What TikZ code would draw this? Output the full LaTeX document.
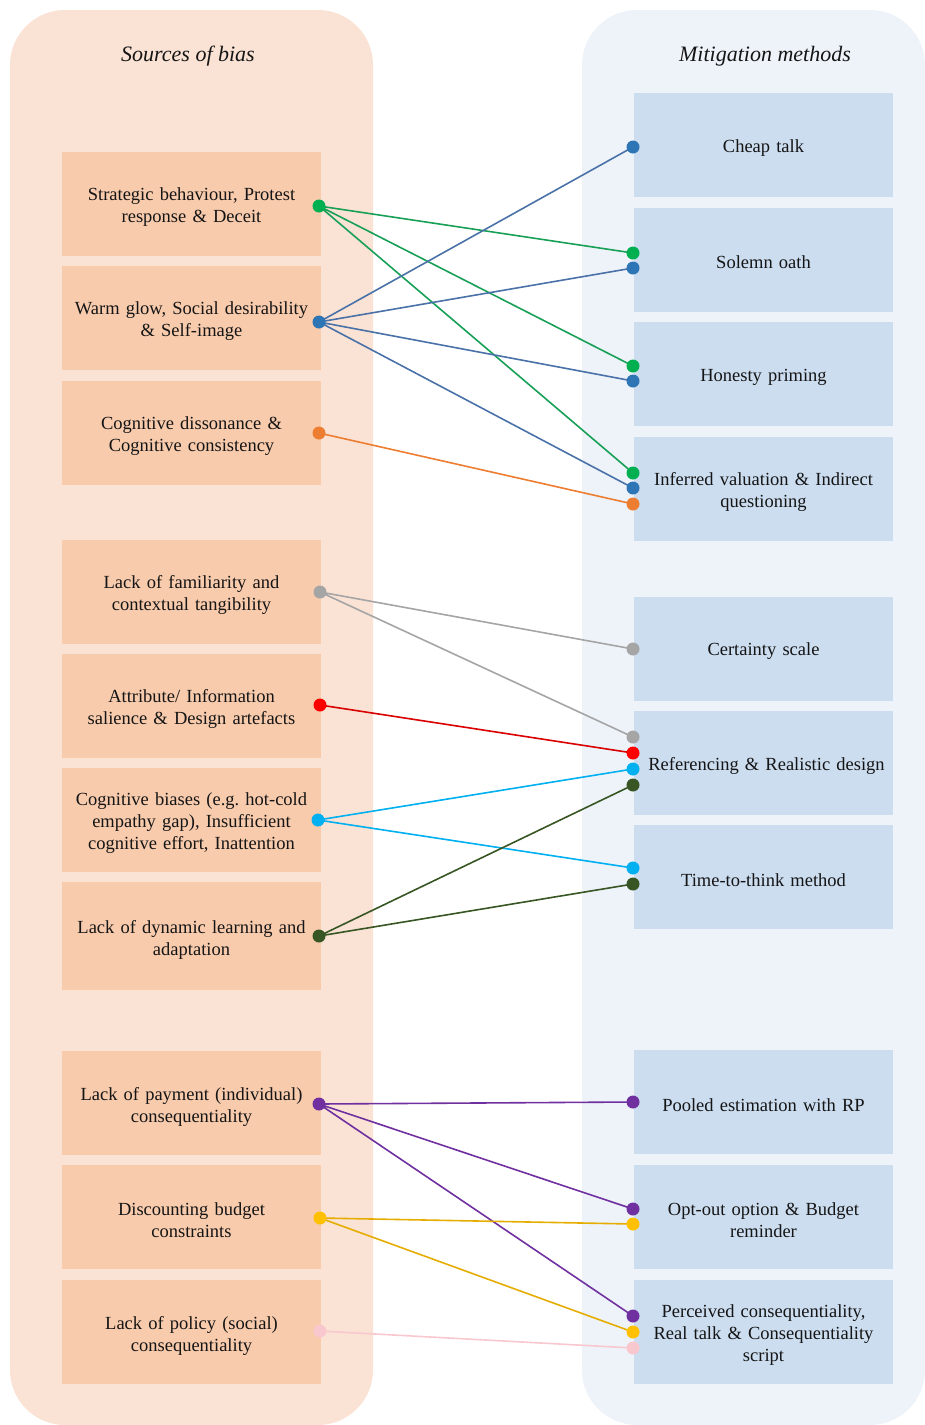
\documentclass[tikz,border=0pt]{standalone}
\usepackage{fontspec}
\setmainfont{Liberation Serif}
\definecolor{leftpanel}{HTML}{FAE3D5}
\definecolor{rightpanel}{HTML}{EEF3FA}
\definecolor{leftbox}{HTML}{F8CBAD}
\definecolor{rightbox}{HTML}{CCDDF0}
\definecolor{cgreen}{HTML}{00B050}
\definecolor{cblue}{HTML}{2E75B6}
\definecolor{lblue}{HTML}{4A72A8}
\definecolor{corange}{HTML}{ED7D31}
\definecolor{cgray}{HTML}{A5A5A5}
\definecolor{cred}{HTML}{FF0000}
\definecolor{ccyan}{HTML}{00B0F0}
\definecolor{cdkgreen}{HTML}{375623}
\definecolor{cpurple}{HTML}{7030A0}
\definecolor{cyellow}{HTML}{FFC000}
\definecolor{cpink}{HTML}{F8C8CE}
\definecolor{textc}{HTML}{151515}
\frenchspacing
\begin{document}
\begin{tikzpicture}[x=1pt,y=-1pt,
  panel/.style={rounded corners=55pt},
  lbox/.style={fill=leftbox,draw=none,minimum width=259pt,minimum height=104pt,inner sep=0pt},
  rbox/.style={fill=rightbox,draw=none,minimum width=259pt,minimum height=104pt,inner sep=0pt},
  btext/.style={align=center,text width=256pt,font=\fontsize{18.5}{22}\selectfont,text=textc,inner sep=0pt},
  title/.style={font=\fontsize{22}{24}\selectfont\itshape,text=textc},
  link/.style={line width=1.6pt}]
\useasboundingbox (0,0) rectangle (925,1425);
% panels
\fill[leftpanel,panel] (10,10) rectangle (373,1425);
\fill[rightpanel,panel] (582,10) rectangle (925,1425);
\node[title] (tl) at (188,56) {Sources of bias};
\node[title] (tr) at (765,56) {Mitigation methods};
% left boxes
\node[lbox] (s1) at (191.5,204) {};
\node[lbox] (s2) at (191.5,318) {};
\node[lbox] (s3) at (191.5,433) {};
\node[lbox] (s4) at (191.5,591.5) {};
\node[lbox] (s5) at (191.5,705.5) {};
\node[lbox] (s6) at (191.5,819.5) {};
\node[lbox,minimum height=108pt] (s7) at (191.5,936) {};
\node[lbox] (s8) at (191.5,1103) {};
\node[lbox] (s9) at (191.5,1217) {};
\node[lbox] (s10) at (191.5,1332) {};
\node[btext] (s1t) at ([yshift=-3.5pt]s1.center) {Strategic behaviour, Protest\\response \& Deceit};
\node[btext] (s2t) at ([yshift=-3.5pt]s2.center) {Warm glow, Social desirability\\\& Self-image};
\node[btext] (s3t) at ([yshift=-3.5pt]s3.center) {Cognitive dissonance \&\\Cognitive consistency};
\node[btext] (s4t) at ([yshift=-3.5pt]s4.center) {Lack of familiarity and\\contextual tangibility};
\node[btext] (s5t) at ([yshift=-3.5pt]s5.center) {Attribute/ Information\\salience \& Design artefacts};
\node[btext] (s6t) at ([yshift=-3.5pt]s6.center) {Cognitive biases (e.g. hot-cold\\empathy gap), Insufficient\\cognitive effort, Inattention};
\node[btext] (s7t) at ([yshift=-3.5pt]s7.center) {Lack of dynamic learning and\\adaptation};
\node[btext] (s8t) at ([yshift=-3.5pt]s8.center) {Lack of payment (individual)\\consequentiality};
\node[btext] (s9t) at ([yshift=-3.5pt]s9.center) {Discounting budget\\constraints};
\node[btext] (s10t) at ([yshift=-3.5pt]s10.center) {Lack of policy (social)\\consequentiality};
% right boxes
\node[rbox] (m1) at (763.5,145) {};
\node[rbox] (m2) at (763.5,259.5) {};
\node[rbox] (m3) at (763.5,374) {};
\node[rbox] (m4) at (763.5,489) {};
\node[rbox] (m5) at (763.5,648.5) {};
\node[rbox] (m6) at (763.5,762.5) {};
\node[rbox] (m7) at (763.5,877) {};
\node[rbox] (m8) at (763.5,1102) {};
\node[rbox] (m9) at (763.5,1217) {};
\node[rbox] (m10) at (763.5,1332) {};
\node[btext] (m1t) at ([yshift=-3pt]m1.center) {Cheap talk};
\node[btext] (m2t) at ([yshift=-3pt]m2.center) {Solemn oath};
\node[btext] (m3t) at ([yshift=-3pt]m3.center) {Honesty priming};
\node[btext] (m4t) at ([yshift=-3pt]m4.center) {Inferred valuation \& Indirect\\questioning};
\node[btext] (m5t) at ([yshift=-3pt]m5.center) {Certainty scale};
\node[btext] (m6t) at ([yshift=-3pt]m6.center) {\hspace*{6pt}Referencing \& Realistic design};
\node[btext] (m7t) at ([yshift=-3pt]m7.center) {Time-to-think method};
\node[btext] (m8t) at ([yshift=-3pt]m8.center) {Pooled estimation with RP};
\node[btext] (m9t) at ([yshift=-3pt]m9.center) {Opt-out option \& Budget\\reminder};
\node[btext] (m10t) at ([yshift=-3pt]m10.center) {Perceived consequentiality,\\Real talk \& Consequentiality\\script};
% anchor points
\coordinate (a1) at (319,206);
\coordinate (a2) at (319,322);
\coordinate (a3) at (319,433);
\coordinate (a4) at (320,592);
\coordinate (a5) at (320,705);
\coordinate (a6) at (318,820);
\coordinate (a7) at (319,936);
\coordinate (a8) at (319,1104);
\coordinate (a9) at (320,1218);
\coordinate (a10) at (320,1331);
\coordinate (b1) at (633,147);
\coordinate (b2g) at (633,253);
\coordinate (b2b) at (633,268);
\coordinate (b3g) at (633,366);
\coordinate (b3b) at (633,381);
\coordinate (b4g) at (633,473);
\coordinate (b4b) at (633,488);
\coordinate (b4o) at (633,504);
\coordinate (b5) at (633,649);
\coordinate (b6a) at (633,737);
\coordinate (b6r) at (633,753);
\coordinate (b6c) at (633,769);
\coordinate (b6d) at (633,785);
\coordinate (b7c) at (633,868);
\coordinate (b7d) at (633,884);
\coordinate (b8) at (633,1102);
\coordinate (b9p) at (633,1209);
\coordinate (b9y) at (633,1224);
\coordinate (b10p) at (633,1316);
\coordinate (b10y) at (633,1332);
\coordinate (b10k) at (633,1348);
% links
\draw[link,cgreen!85!black!90] (a1) -- (b2g) (a1) -- (b3g) (a1) -- (b4g);
\draw[link,lblue] (a2) -- (b1) (a2) -- (b2b) (a2) -- (b3b) (a2) -- (b4b);
\draw[link,corange] (a3) -- (b4o);
\draw[link,cgray] (a4) -- (b5) (a4) -- (b6a);
\draw[link,cred!85!black] (a5) -- (b6r);
\draw[link,ccyan] (a6) -- (b6c) (a6) -- (b7c);
\draw[link,cdkgreen] (a7) -- (b6d) (a7) -- (b7d);
\draw[link,cpurple] (a8) -- (b8) (a8) -- (b9p) (a8) -- (b10p);
\draw[link,cyellow!90!black] (a9) -- (b9y) (a9) -- (b10y);
\draw[link,cpink] (a10) -- (b10k);
% dots
\fill[cgreen] (a1) circle (6.5) (b2g) circle (6.5) (b3g) circle (6.5) (b4g) circle (6.5);
\fill[cblue] (a2) circle (6.5) (b1) circle (6.5) (b2b) circle (6.5) (b3b) circle (6.5) (b4b) circle (6.5);
\fill[corange] (a3) circle (6.5) (b4o) circle (6.5);
\fill[cgray] (a4) circle (6.5) (b5) circle (6.5) (b6a) circle (6.5);
\fill[cred] (a5) circle (6.5) (b6r) circle (6.5);
\fill[ccyan] (a6) circle (6.5) (b6c) circle (6.5) (b7c) circle (6.5);
\fill[cdkgreen] (a7) circle (6.5) (b6d) circle (6.5) (b7d) circle (6.5);
\fill[cpurple] (a8) circle (6.5) (b8) circle (6.5) (b9p) circle (6.5) (b10p) circle (6.5);
\fill[cyellow] (a9) circle (6.5) (b9y) circle (6.5) (b10y) circle (6.5);
\fill[cpink] (a10) circle (6.5) (b10k) circle (6.5);
\end{tikzpicture}
\end{document}
